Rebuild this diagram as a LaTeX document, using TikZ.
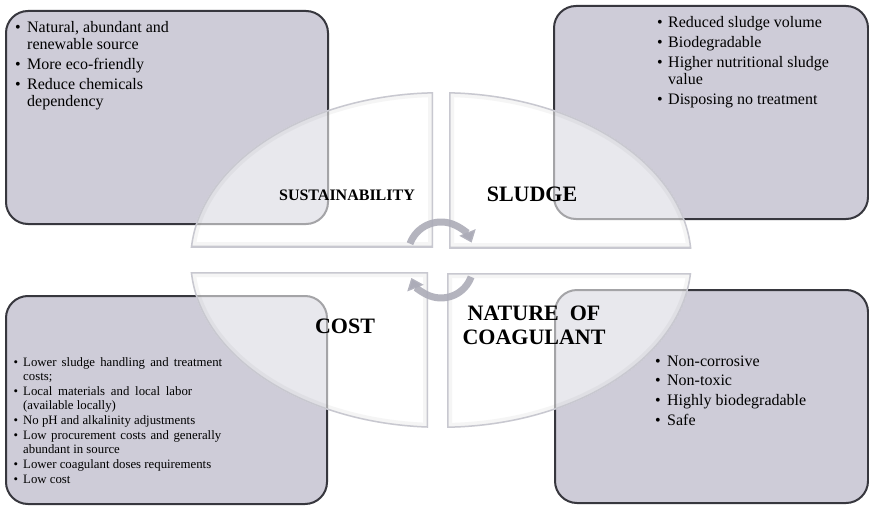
\documentclass[tikz,border=0pt]{standalone}
\usepackage{fontspec}
\setmainfont{Liberation Serif}
\usetikzlibrary{arrows.meta}
\definecolor{boxfill}{RGB}{206,204,216}
\definecolor{boxline}{RGB}{55,55,62}
\definecolor{quadline}{RGB}{200,200,208}
\definecolor{arrowcol}{RGB}{172,172,184}
\newlength{\bulletw}
\newcommand{\bitem}[1]{\par\noindent\hangindent=\bulletw\hangafter=1\makebox[\bulletw][l]{•}#1\par}
\newcommand{\ellpath}{(441,260) ellipse [x radius=251pt, y radius=168pt]}
\begin{document}
\begin{tikzpicture}[x=1pt,y=-1pt,
  infobox/.style={draw=boxline, line width=2pt, fill=boxfill, rounded corners=22pt, anchor=north west, inner sep=0pt},
  quadfill/.style={fill=white, fill opacity=0.55},
  quadglow/.style={draw=gray, draw opacity=0.08, line width=10pt},
  quadedge/.style={draw=quadline, line width=3pt},
  lab/.style={font=\bfseries\fontsize{22}{23.3}\selectfont, inner sep=0pt, anchor=base},
  txt/.style={inner sep=0pt, anchor=base west},
  cyc/.style={draw=arrowcol, draw opacity=0.9, line width=7pt, -{Triangle[width=17pt,length=11pt,fill=arrowcol]}}]
\useasboundingbox (0,0) rectangle (869,508);
\fill[white] (0,0) rectangle (869,508);

% boxes
\node[infobox, minimum width=322pt, minimum height=213pt] (tl) at (5,10) {};
\node[infobox, minimum width=314pt, minimum height=213pt] (tr) at (553,5) {};
\node[infobox, minimum width=321pt, minimum height=208pt] (bl) at (5,295) {};
\node[infobox, minimum width=313pt, minimum height=213pt] (br) at (554,289) {};

% box texts
\node[txt] (tltext) at (15,33) {\parbox[t]{300pt}{\fontsize{16}{17}\selectfont\raggedright\setlength{\bulletw}{12pt}\setlength{\parskip}{3pt}%
\bitem{Natural, abundant and\newline renewable source}
\bitem{More eco-friendly}
\bitem{Reduce chemicals\newline dependency}}};

\node[txt] (trtext) at (657,28) {\parbox[t]{200pt}{\fontsize{16}{17}\selectfont\raggedright\setlength{\bulletw}{11pt}\setlength{\parskip}{3pt}%
\bitem{Reduced sludge volume}
\bitem{Biodegradable}
\bitem{Higher nutritional sludge\newline value}
\bitem{Disposing no treatment}}};

\node[txt] (bltext) at (13.5,366) {\parbox[t]{300pt}{\fontsize{12.8}{14}\selectfont\raggedright\setlength{\bulletw}{9.5pt}\setlength{\parskip}{1pt}%
\bitem{\makebox[199pt][s]{Lower sludge handling and treatment}\newline costs;}
\bitem{\makebox[169pt][s]{Local materials and local labor}\newline (available locally)}
\bitem{No pH and alkalinity adjustments}
\bitem{\makebox[198pt][s]{Low procurement costs and generally}\newline abundant in source}
\bitem{Lower coagulant doses requirements}
\bitem{Low cost}}};

\node[txt] (brtext) at (655,366) {\parbox[t]{200pt}{\fontsize{16}{17}\selectfont\raggedright\setlength{\bulletw}{12pt}\setlength{\parskip}{2.7pt}%
\bitem{Non-corrosive}
\bitem{Non-toxic}
\bitem{Highly biodegradable}
\bitem{Safe}}};

% quadrants
\begin{scope}
  \clip (0,0) rectangle (433,247);
  \clip \ellpath;
  \fill[quadfill] \ellpath;
  \draw[quadglow] \ellpath (433,0) -- (433,247) -- (0,247);
  \draw[quadedge] \ellpath (433,0) -- (433,247) -- (0,247);
\end{scope}
\begin{scope}
  \clip (449,0) rectangle (869,248);
  \clip \ellpath;
  \fill[quadfill] \ellpath;
  \draw[quadglow] \ellpath (449,0) -- (449,248) -- (869,248);
  \draw[quadedge] \ellpath (449,0) -- (449,248) -- (869,248);
\end{scope}
\begin{scope}
  \clip (0,272) rectangle (428,508);
  \clip \ellpath;
  \fill[quadfill] \ellpath;
  \draw[quadglow] \ellpath (0,272) -- (428,272) -- (428,508);
  \draw[quadedge] \ellpath (0,272) -- (428,272) -- (428,508);
\end{scope}
\begin{scope}
  \clip (447,273) rectangle (869,508);
  \clip \ellpath;
  \fill[quadfill] \ellpath;
  \draw[quadglow] \ellpath (869,273) -- (447,273) -- (447,508);
  \draw[quadedge] \ellpath (869,273) -- (447,273) -- (447,508);
\end{scope}

% labels
\node[lab, font=\bfseries\fontsize{16}{18}\selectfont] (sus) at (347,200.5) {SUSTAINABILITY};
\node[lab] (slu) at (532,201.5) {SLUDGE};
\node[lab] (cost) at (345,333) {COST};
\node[lab] (nat) at (534,320.7) {\begin{tabular}[t]{@{}c@{}}NATURE\ \ OF\\COAGULANT\end{tabular}};

% cycle arrows
\coordinate (c1) at (410,243.7);
\coordinate (c2) at (471.1,276.9);
\draw[cyc] (c1) arc[start angle=160, end angle=22, radius=33pt];
\draw[cyc] (c2) arc[start angle=-20, end angle=-158, radius=32pt];
\end{tikzpicture}
\end{document}
